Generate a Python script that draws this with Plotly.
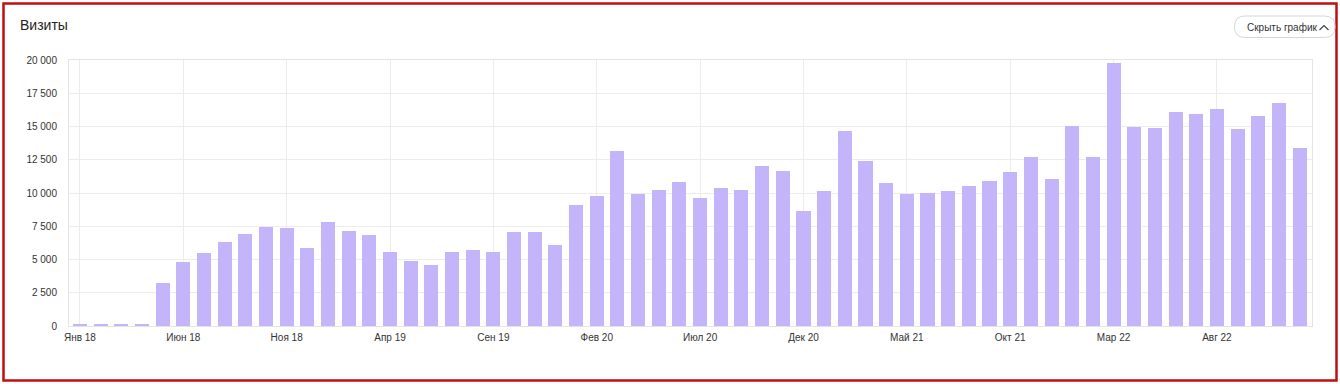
import plotly.graph_objects as go

months = ["Янв", "Фев", "Мар", "Апр", "Май", "Июн", "Июл", "Авг", "Сен", "Окт", "Ноя", "Дек"]
years = ["18", "19", "20", "21", "22"]
categories = [f"{m} {y}" for y in years for m in months]

visits = [
    150, 150, 150, 150, 3250, 4790, 5500, 6350, 6950, 7480, 7380, 5870,
    7850, 7130, 6820, 5600, 4890, 4590, 5550, 5700, 5570, 7080, 7080, 6120,
    9080, 9790, 13150, 9960, 10260, 10840, 9610, 10390, 10260, 12020, 11670, 8610,
    10160, 14680, 12370, 10760, 9890, 10010, 10140, 10490, 10890, 11590, 12720, 11040,
    15030, 12720, 19800, 14980, 14900, 16110, 15960, 16330, 14850, 15810, 16760, 13370,
]

y_tickvals = [0, 2500, 5000, 7500, 10000, 12500, 15000, 17500, 20000]
y_ticktext = ["0", "2 500", "5 000", "7 500", "10 000", "12 500", "15 000", "17 500", "20 000"]
x_tick_idx = list(range(0, 60, 5))
x_ticktext = [categories[i] for i in x_tick_idx]

W, H = 1340, 384
L, R, T, B = 69, 28, 60, 58
PW, PH = W - L - R, H - T - B


def px(x):
    return (x - L) / PW


def py(y):
    return (H - B - y) / PH


fig = go.Figure()
fig.add_trace(go.Bar(
    x=list(range(len(visits))), y=visits,
    marker=dict(color="#c4b4f9", line=dict(width=0)),
    width=0.68,
    hovertext=categories, hoverinfo="text+y",
))

font = "Arial, Liberation Sans, sans-serif"

# rounded pill button
bx0, bx1, by0, by1, r = 1234.5, 1335, 16, 37.5, 10.5
path = (
    f"M {px(bx0 + r)},{py(by0)} L {px(bx1 - r)},{py(by0)} "
    f"Q {px(bx1)},{py(by0)} {px(bx1)},{py(by0 + r)} "
    f"Q {px(bx1)},{py(by1)} {px(bx1 - r)},{py(by1)} "
    f"L {px(bx0 + r)},{py(by1)} "
    f"Q {px(bx0)},{py(by1)} {px(bx0)},{py(by1 - r)} "
    f"Q {px(bx0)},{py(by0)} {px(bx0 + r)},{py(by0)} Z"
)
chev = f"M {px(1319.5)},{py(30)} L {px(1324)},{py(25.5)} L {px(1328.5)},{py(30)}"

fig.update_layout(
    width=W, height=H,
    margin=dict(l=L, r=R, t=T, b=B),
    paper_bgcolor="white", plot_bgcolor="white",
    showlegend=False,
    bargap=0,
    font=dict(family=font, color="#333333"),
    xaxis=dict(
        range=[-0.53, 59.6],
        tickvals=x_tick_idx, ticktext=x_ticktext,
        showgrid=True, gridcolor="#ececec", gridwidth=1,
        showline=True, linecolor="#e4e4e4", linewidth=1, mirror=True,
        ticks="", tickfont=dict(size=10, color="#333333"),
        ticklabelstandoff=2, zeroline=False,
    ),
    yaxis=dict(
        range=[0, 20000],
        tickvals=y_tickvals, ticktext=y_ticktext,
        showgrid=True, gridcolor="#ececec", gridwidth=1,
        showline=True, linecolor="#e4e4e4", linewidth=1, mirror=True,
        ticks="", tickfont=dict(size=10, color="#333333"),
        ticklabelstandoff=9, zeroline=False,
    ),
    shapes=[
        dict(type="rect", xref="paper", yref="paper",
             x0=px(3.5), x1=px(1336.5), y0=py(3.5), y1=py(380.5),
             line=dict(color="#bf0f0f", width=2.5), fillcolor="rgba(0,0,0,0)", layer="above"),
        dict(type="path", xref="paper", yref="paper", path=path,
             line=dict(color="#d6d6d6", width=1), fillcolor="white"),
        dict(type="path", xref="paper", yref="paper", path=chev,
             line=dict(color="#444444", width=1.2)),
    ],
    annotations=[
        dict(text="Визиты", xref="paper", yref="paper", x=px(18), y=py(25),
             xanchor="left", yanchor="middle", showarrow=False,
             font=dict(size=14, color="#222222", family=font)),
        dict(text="Скрыть график", xref="paper", yref="paper", x=px(1244.5), y=py(27),
             xanchor="left", yanchor="middle", showarrow=False,
             font=dict(size=10, color="#333333", family=font)),
    ],
)

fig.write_html("out.html")
